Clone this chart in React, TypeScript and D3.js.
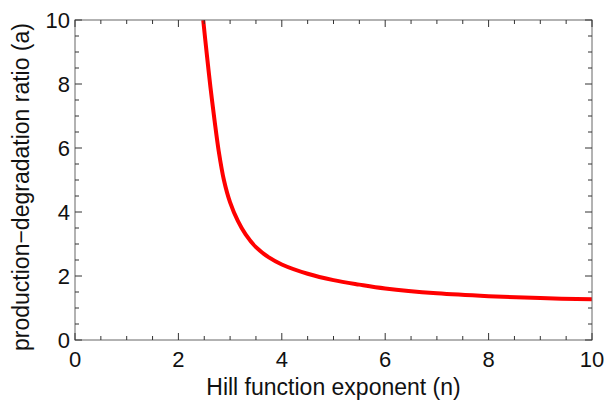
import { useEffect, useRef } from 'react';
import * as d3 from 'd3';

// Hill exponent n vs. production-degradation ratio a
const hillN = [2.48, 2.55, 2.62, 2.7, 2.78, 2.88, 3.0, 3.15, 3.3, 3.5, 3.75, 4.0, 4.5, 5.0, 5.5, 6.0, 7.0, 8.0, 9.0, 10.0];
const ratioA = [10, 8.92, 7.9, 6.85, 5.9, 5.0, 4.3, 3.72, 3.3, 2.9, 2.58, 2.36, 2.07, 1.87, 1.73, 1.61, 1.46, 1.37, 1.31, 1.27];

const xTicks = [0, 2, 4, 6, 8, 10];
const yTicks = [0, 2, 4, 6, 8, 10];

const W = 608;
const H = 403;

export default function App() {
  const ref = useRef<SVGSVGElement>(null);

  useEffect(() => {
    if (!ref.current) return;
    const svg = d3.select(ref.current);
    svg.selectAll('*').remove();

    const margin = { top: 20, right: 16, bottom: 63, left: 75 };
    const x = d3.scaleLinear().domain([0, 10]).range([margin.left, W - margin.right]);
    const y = d3.scaleLinear().domain([0, 10]).range([H - margin.bottom, margin.top]);
    const [x0, x1] = x.range();
    const [y0, y1] = y.range();

    const font = '"Liberation Sans", Arial, Helvetica, sans-serif';
    const minorX = d3.range(0, 10.01, 0.5);
    const minorY = d3.range(0, 10.01, 0.5);
    const isMajor = (v: number) => Math.abs(v / 2 - Math.round(v / 2)) < 1e-6;

    // curve (clipped to frame)
    svg.append('clipPath').attr('id', 'plotclip')
      .append('rect').attr('x', x0).attr('y', y1).attr('width', x1 - x0).attr('height', y0 - y1);

    const pts = hillN.map((n, i) => [n, ratioA[i]] as [number, number]);
    svg.append('path')
      .datum(pts)
      .attr('clip-path', 'url(#plotclip)')
      .attr('fill', 'none')
      .attr('stroke', '#ff0000')
      .attr('stroke-width', 4)
      .attr('d', d3.line<[number, number]>()
        .x(d => x(d[0]))
        .y(d => y(d[1]))
        .curve(d3.curveCatmullRom.alpha(0.5)));

    // frame
    svg.append('rect')
      .attr('x', x0).attr('y', y1)
      .attr('width', x1 - x0).attr('height', y0 - y1)
      .attr('fill', 'none').attr('stroke', '#666').attr('stroke-width', 1);

    const ticks = svg.append('g').attr('stroke', '#333').attr('stroke-width', 1);
    minorX.forEach(v => {
      const len = isMajor(v) ? 7 : 4;
      const px = x(v);
      ticks.append('line').attr('x1', px).attr('x2', px).attr('y1', y0).attr('y2', y0 - len);
      ticks.append('line').attr('x1', px).attr('x2', px).attr('y1', y1).attr('y2', y1 + len);
    });
    minorY.forEach(v => {
      const len = isMajor(v) ? 7 : 4;
      const py = y(v);
      ticks.append('line').attr('x1', x0).attr('x2', x0 + len).attr('y1', py).attr('y2', py);
      ticks.append('line').attr('x1', x1).attr('x2', x1 - len).attr('y1', py).attr('y2', py);
    });

    // tick labels
    svg.append('g').selectAll('text').data(xTicks).join('text')
      .attr('x', d => x(d)).attr('y', y0 + 27)
      .attr('text-anchor', 'middle')
      .attr('font-family', font).attr('font-size', 22).attr('fill', '#111')
      .text(d => d);

    svg.append('g').selectAll('text').data(yTicks).join('text')
      .attr('x', x0 - 5).attr('y', d => y(d) + 8)
      .attr('text-anchor', 'end')
      .attr('font-family', font).attr('font-size', 22).attr('fill', '#111')
      .text(d => d);

    // axis titles
    svg.append('text')
      .attr('x', (x0 + x1) / 2).attr('y', 395)
      .attr('text-anchor', 'middle')
      .attr('font-family', font).attr('font-size', 23).attr('fill', '#111')
      .text('Hill function exponent (n)');

    svg.append('text')
      .attr('transform', `translate(29,${(y0 + y1) / 2 + 7}) rotate(-90)`)
      .attr('text-anchor', 'middle')
      .attr('font-family', font).attr('font-size', 23).attr('fill', '#111')
      .text('production\u2212degradation ratio (a)');
  }, []);

  return (
    <svg ref={ref} width={W} height={H}
      style={{ position: 'absolute', left: 0, top: 0, background: '#fff' }} />
  );
}
